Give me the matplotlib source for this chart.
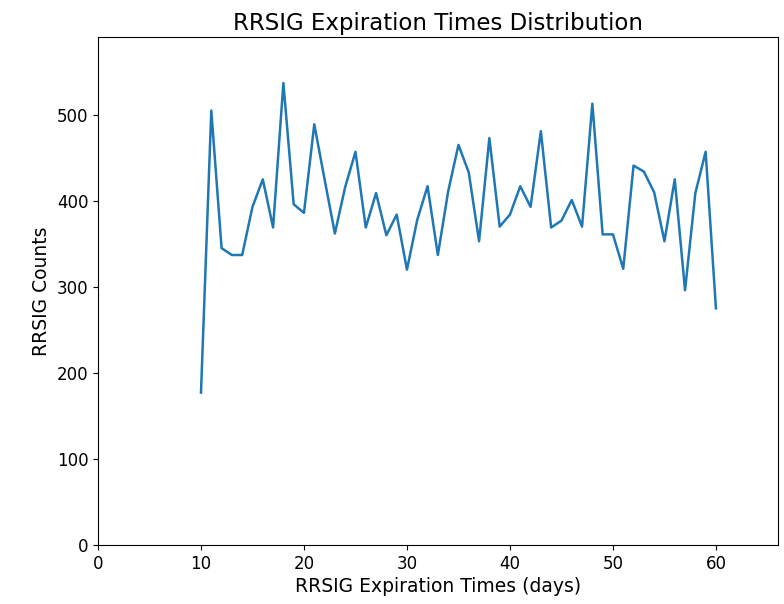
import matplotlib
matplotlib.use("Agg")
import matplotlib.pyplot as plt

# 过期时间（天）
days = list(range(10, 61))

# 每个过期时间对应的 RRSIG 数量
counts = [
    177, 505, 345, 337, 337, 393, 425, 369, 537, 396,
    386, 489, 425, 362, 416, 457, 369, 409, 360, 384,
    320, 378, 417, 337, 411, 465, 433, 353, 473, 370,
    384, 417, 393, 481, 369, 377, 401, 370, 513, 361,
    361, 321, 441, 434, 410, 353, 425, 296, 409, 457,
    275,
]

plt.rcParams['font.family'] = ['DejaVu Sans']
plt.rcParams['font.size'] = 12

fig = plt.figure(figsize=(7.84, 6.04), dpi=100)
ax = fig.add_axes([0.125, 0.098, 0.867, 0.841])

ax.plot(days, counts, color='#1f77b4', linewidth=1.8)

ax.set_xlim(0, max(days) * 1.1)
ax.set_ylim(0, max(counts) * 1.1)

ax.set_title('RRSIG Expiration Times Distribution', fontsize=16.5, pad=5)
ax.set_xlabel('RRSIG Expiration Times (days)', fontsize=13.5, labelpad=3)
ax.set_ylabel('RRSIG Counts', fontsize=13.5)

fig.savefig('out.png', dpi=100)
